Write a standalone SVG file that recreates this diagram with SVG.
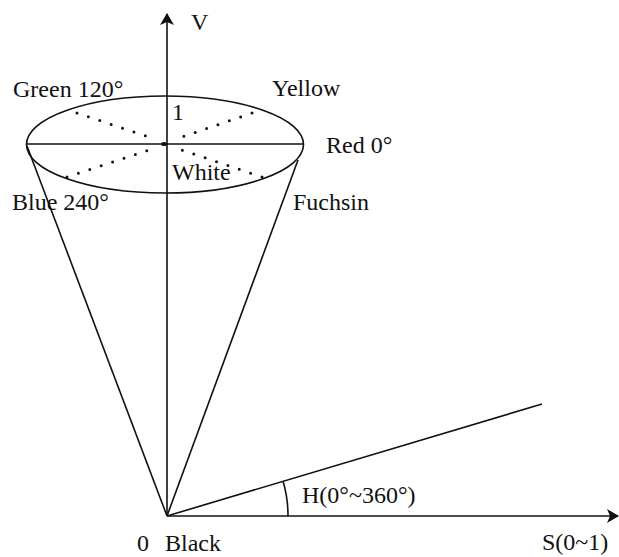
<svg xmlns="http://www.w3.org/2000/svg" width="619" height="557" viewBox="0 0 619 557">
<style>
.ln{stroke:#111;stroke-width:1.6;fill:none}
.dot{stroke:#111;stroke-width:3;stroke-linecap:round;stroke-dasharray:0 12;fill:none}
text{font-family:"Liberation Serif","Times New Roman",serif;font-size:24px;fill:#111}
</style>
<defs>
<marker id="ah" viewBox="0 0 12 14" refX="11" refY="7" markerWidth="12" markerHeight="14" markerUnits="userSpaceOnUse" orient="auto">
<path d="M0,0 L12,7 L0,14 L3,7 Z" fill="#111"/>
</marker>
</defs>
<g id="connectors">
<line class="ln" x1="167" y1="516" x2="167" y2="14" marker-end="url(#ah)"/>
<line class="ln" x1="167" y1="516" x2="618" y2="516" marker-end="url(#ah)"/>
<line class="ln" x1="167" y1="516" x2="542" y2="404"/>
<line class="ln" x1="27" y1="146" x2="167" y2="516"/>
<line class="ln" x1="298" y1="160" x2="167" y2="516"/>
<path class="ln" d="M283,481 A121,121 0 0 1 288,516"/>
</g>
<g id="cone-top">
<ellipse class="ln" cx="165" cy="144.5" rx="138.5" ry="48.5"/>
<line class="ln" x1="26.5" y1="144" x2="303.5" y2="144"/>
<line class="dot" x1="77" y1="113" x2="155" y2="139"/>
<line class="dot" x1="252" y1="113" x2="176" y2="139"/>
<line class="dot" x1="67" y1="177" x2="155" y2="148"/>
<line class="dot" x1="262" y1="177" x2="176" y2="148"/>
<ellipse cx="164" cy="144" rx="3" ry="2" fill="#111"/>
</g>
<g id="labels">
<text x="191" y="30">V</text>
<text x="13" y="97">Green 120°</text>
<text x="272" y="96">Yellow</text>
<text x="172" y="120">1</text>
<text x="326" y="153">Red 0°</text>
<text x="172" y="180">White</text>
<text x="12" y="210">Blue 240°</text>
<text x="293" y="210">Fuchsin</text>
<text x="302" y="503">H(0°~360°)</text>
<text x="137" y="551">0</text>
<text x="165" y="551">Black</text>
<text x="542" y="550">S(0~1)</text>
</g>
</svg>
